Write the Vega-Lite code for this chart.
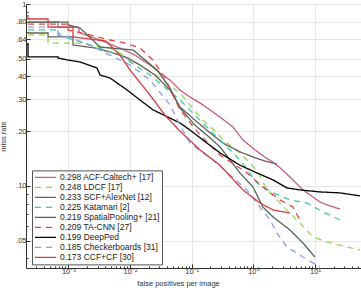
{
  "$schema": "https://vega.github.io/schema/vega-lite/v6.json",
  "autosize": {"type": "none"},
  "width": 335,
  "height": 264,
  "padding": {"left": 26, "top": 4, "right": 0, "bottom": 20},
  "config": {
    "view": {"stroke": null},
    "font": "Liberation Sans",
    "axis": {
      "domainColor": "#333333", "tickColor": "#333333", "labelColor": "#333333", "titleColor": "#333333",
      "gridColor": "#e6e6e6", "gridWidth": 1, "labelFont": "Liberation Sans", "titleFont": "Liberation Sans",
      "titleFontWeight": "normal"
    }
  },
  "data": {"values": [
    {"m": "0.298 ACF-Caltech+ [17]", "f": 0.000222, "r": 0.796},
    {"m": "0.298 ACF-Caltech+ [17]", "f": 0.000681, "r": 0.796},
    {"m": "0.298 ACF-Caltech+ [17]", "f": 0.000681, "r": 0.747},
    {"m": "0.298 ACF-Caltech+ [17]", "f": 0.00144, "r": 0.747},
    {"m": "0.298 ACF-Caltech+ [17]", "f": 0.00155, "r": 0.693},
    {"m": "0.298 ACF-Caltech+ [17]", "f": 0.00327, "r": 0.634},
    {"m": "0.298 ACF-Caltech+ [17]", "f": 0.00689, "r": 0.573},
    {"m": "0.298 ACF-Caltech+ [17]", "f": 0.012, "r": 0.524},
    {"m": "0.298 ACF-Caltech+ [17]", "f": 0.0211, "r": 0.462},
    {"m": "0.298 ACF-Caltech+ [17]", "f": 0.0306, "r": 0.418},
    {"m": "0.298 ACF-Caltech+ [17]", "f": 0.0445, "r": 0.382},
    {"m": "0.298 ACF-Caltech+ [17]", "f": 0.0646, "r": 0.337},
    {"m": "0.298 ACF-Caltech+ [17]", "f": 0.0938, "r": 0.308},
    {"m": "0.298 ACF-Caltech+ [17]", "f": 0.136, "r": 0.286},
    {"m": "0.298 ACF-Caltech+ [17]", "f": 0.198, "r": 0.262},
    {"m": "0.298 ACF-Caltech+ [17]", "f": 0.288, "r": 0.239},
    {"m": "0.298 ACF-Caltech+ [17]", "f": 0.467, "r": 0.211},
    {"m": "0.298 ACF-Caltech+ [17]", "f": 0.678, "r": 0.179},
    {"m": "0.298 ACF-Caltech+ [17]", "f": 1.06, "r": 0.158},
    {"m": "0.298 ACF-Caltech+ [17]", "f": 1.54, "r": 0.144},
    {"m": "0.298 ACF-Caltech+ [17]", "f": 2.08, "r": 0.135},
    {"m": "0.298 ACF-Caltech+ [17]", "f": 2.70, "r": 0.126},
    {"m": "0.298 ACF-Caltech+ [17]", "f": 3.92, "r": 0.112},
    {"m": "0.298 ACF-Caltech+ [17]", "f": 6.37, "r": 0.0951},
    {"m": "0.298 ACF-Caltech+ [17]", "f": 12.0, "r": 0.0817},
    {"m": "0.298 ACF-Caltech+ [17]", "f": 17.5, "r": 0.0776},
    {"m": "0.298 ACF-Caltech+ [17]", "f": 25.4, "r": 0.0747},

    {"m": "0.248 LDCF [17]", "f": 0.000222, "r": 0.676},
    {"m": "0.248 LDCF [17]", "f": 0.000469, "r": 0.676},
    {"m": "0.248 LDCF [17]", "f": 0.000469, "r": 0.610},
    {"m": "0.248 LDCF [17]", "f": 0.00155, "r": 0.610},
    {"m": "0.248 LDCF [17]", "f": 0.00225, "r": 0.595},
    {"m": "0.248 LDCF [17]", "f": 0.00474, "r": 0.573},
    {"m": "0.248 LDCF [17]", "f": 0.00894, "r": 0.512},
    {"m": "0.248 LDCF [17]", "f": 0.0162, "r": 0.451},
    {"m": "0.248 LDCF [17]", "f": 0.0306, "r": 0.392},
    {"m": "0.248 LDCF [17]", "f": 0.0646, "r": 0.324},
    {"m": "0.248 LDCF [17]", "f": 0.152, "r": 0.230},
    {"m": "0.248 LDCF [17]", "f": 0.257, "r": 0.196},
    {"m": "0.248 LDCF [17]", "f": 0.322, "r": 0.179},
    {"m": "0.248 LDCF [17]", "f": 0.606, "r": 0.152},
    {"m": "0.248 LDCF [17]", "f": 1.14, "r": 0.122},
    {"m": "0.248 LDCF [17]", "f": 1.66, "r": 0.0951},
    {"m": "0.248 LDCF [17]", "f": 3.92, "r": 0.0710},
    {"m": "0.248 LDCF [17]", "f": 5.70, "r": 0.0626},
    {"m": "0.248 LDCF [17]", "f": 9.25, "r": 0.0525},
    {"m": "0.248 LDCF [17]", "f": 15.6, "r": 0.0492},
    {"m": "0.248 LDCF [17]", "f": 32.9, "r": 0.0462},
    {"m": "0.248 LDCF [17]", "f": 53.5, "r": 0.0445},

    {"m": "0.233 SCF+AlexNet [12]", "f": 0.000222, "r": 0.693},
    {"m": "0.233 SCF+AlexNet [12]", "f": 0.000469, "r": 0.693},
    {"m": "0.233 SCF+AlexNet [12]", "f": 0.000469, "r": 0.659},
    {"m": "0.233 SCF+AlexNet [12]", "f": 0.00119, "r": 0.659},
    {"m": "0.233 SCF+AlexNet [12]", "f": 0.00119, "r": 0.595},
    {"m": "0.233 SCF+AlexNet [12]", "f": 0.00271, "r": 0.573},
    {"m": "0.233 SCF+AlexNet [12]", "f": 0.00474, "r": 0.545},
    {"m": "0.233 SCF+AlexNet [12]", "f": 0.0083, "r": 0.512},
    {"m": "0.233 SCF+AlexNet [12]", "f": 0.0145, "r": 0.462},
    {"m": "0.233 SCF+AlexNet [12]", "f": 0.0254, "r": 0.407},
    {"m": "0.233 SCF+AlexNet [12]", "f": 0.0445, "r": 0.337},
    {"m": "0.233 SCF+AlexNet [12]", "f": 0.0646, "r": 0.272},
    {"m": "0.233 SCF+AlexNet [12]", "f": 0.113, "r": 0.230},
    {"m": "0.233 SCF+AlexNet [12]", "f": 0.198, "r": 0.196},
    {"m": "0.233 SCF+AlexNet [12]", "f": 0.322, "r": 0.172},
    {"m": "0.233 SCF+AlexNet [12]", "f": 0.606, "r": 0.154},
    {"m": "0.233 SCF+AlexNet [12]", "f": 1.06, "r": 0.143},
    {"m": "0.233 SCF+AlexNet [12]", "f": 1.54, "r": 0.137},
    {"m": "0.233 SCF+AlexNet [12]", "f": 2.41, "r": 0.132},

    {"m": "0.225 Katamari [2]", "f": 0.000222, "r": 0.720},
    {"m": "0.225 Katamari [2]", "f": 0.000681, "r": 0.720},
    {"m": "0.225 Katamari [2]", "f": 0.000681, "r": 0.676},
    {"m": "0.225 Katamari [2]", "f": 0.00225, "r": 0.595},
    {"m": "0.225 Katamari [2]", "f": 0.00689, "r": 0.524},
    {"m": "0.225 Katamari [2]", "f": 0.0211, "r": 0.407},
    {"m": "0.225 Katamari [2]", "f": 0.0646, "r": 0.297},
    {"m": "0.225 Katamari [2]", "f": 0.136, "r": 0.230},
    {"m": "0.225 Katamari [2]", "f": 0.288, "r": 0.179},
    {"m": "0.225 Katamari [2]", "f": 0.606, "r": 0.139},
    {"m": "0.225 Katamari [2]", "f": 1.14, "r": 0.104},
    {"m": "0.225 Katamari [2]", "f": 2.08, "r": 0.0916},
    {"m": "0.225 Katamari [2]", "f": 3.92, "r": 0.0838},
    {"m": "0.225 Katamari [2]", "f": 7.39, "r": 0.0806},
    {"m": "0.225 Katamari [2]", "f": 13.4, "r": 0.0720},
    {"m": "0.225 Katamari [2]", "f": 25.4, "r": 0.0651},

    {"m": "0.219 SpatialPooling+ [21]", "f": 0.000222, "r": 0.796},
    {"m": "0.219 SpatialPooling+ [21]", "f": 0.000989, "r": 0.796},
    {"m": "0.219 SpatialPooling+ [21]", "f": 0.000989, "r": 0.767},
    {"m": "0.219 SpatialPooling+ [21]", "f": 0.00155, "r": 0.738},
    {"m": "0.219 SpatialPooling+ [21]", "f": 0.00327, "r": 0.580},
    {"m": "0.219 SpatialPooling+ [21]", "f": 0.0112, "r": 0.559},
    {"m": "0.219 SpatialPooling+ [21]", "f": 0.0274, "r": 0.434},
    {"m": "0.219 SpatialPooling+ [21]", "f": 0.0445, "r": 0.345},
    {"m": "0.219 SpatialPooling+ [21]", "f": 0.0646, "r": 0.268},
    {"m": "0.219 SpatialPooling+ [21]", "f": 0.113, "r": 0.216},
    {"m": "0.219 SpatialPooling+ [21]", "f": 0.198, "r": 0.184},
    {"m": "0.219 SpatialPooling+ [21]", "f": 0.288, "r": 0.164},
    {"m": "0.219 SpatialPooling+ [21]", "f": 0.418, "r": 0.139},
    {"m": "0.219 SpatialPooling+ [21]", "f": 0.606, "r": 0.118},
    {"m": "0.219 SpatialPooling+ [21]", "f": 0.985, "r": 0.0988},
    {"m": "0.219 SpatialPooling+ [21]", "f": 1.43, "r": 0.0766},
    {"m": "0.219 SpatialPooling+ [21]", "f": 2.08, "r": 0.0676},
    {"m": "0.219 SpatialPooling+ [21]", "f": 3.92, "r": 0.0573},
    {"m": "0.219 SpatialPooling+ [21]", "f": 6.37, "r": 0.0486},
    {"m": "0.219 SpatialPooling+ [21]", "f": 9.98, "r": 0.0407},

    {"m": "0.209 TA-CNN [27]", "f": 0.000222, "r": 0.776},
    {"m": "0.209 TA-CNN [27]", "f": 0.000989, "r": 0.776},
    {"m": "0.209 TA-CNN [27]", "f": 0.000989, "r": 0.720},
    {"m": "0.209 TA-CNN [27]", "f": 0.00225, "r": 0.676},
    {"m": "0.209 TA-CNN [27]", "f": 0.00474, "r": 0.634},
    {"m": "0.209 TA-CNN [27]", "f": 0.0083, "r": 0.610},
    {"m": "0.209 TA-CNN [27]", "f": 0.0145, "r": 0.573},
    {"m": "0.209 TA-CNN [27]", "f": 0.0236, "r": 0.492},
    {"m": "0.209 TA-CNN [27]", "f": 0.0369, "r": 0.392},
    {"m": "0.209 TA-CNN [27]", "f": 0.0646, "r": 0.262},
    {"m": "0.209 TA-CNN [27]", "f": 0.136, "r": 0.191},
    {"m": "0.209 TA-CNN [27]", "f": 0.288, "r": 0.148},
    {"m": "0.209 TA-CNN [27]", "f": 0.787, "r": 0.118},
    {"m": "0.209 TA-CNN [27]", "f": 1.43, "r": 0.0988},
    {"m": "0.209 TA-CNN [27]", "f": 2.70, "r": 0.0838},
    {"m": "0.209 TA-CNN [27]", "f": 4.38, "r": 0.0766},
    {"m": "0.209 TA-CNN [27]", "f": 5.70, "r": 0.0651},

    {"m": "0.199 DeepPed", "f": 0.000222, "r": 0.610},
    {"m": "0.199 DeepPed", "f": 0.000222, "r": 0.512},
    {"m": "0.199 DeepPed", "f": 0.000681, "r": 0.512},
    {"m": "0.199 DeepPed", "f": 0.000681, "r": 0.505},
    {"m": "0.199 DeepPed", "f": 0.000989, "r": 0.492},
    {"m": "0.199 DeepPed", "f": 0.00155, "r": 0.480},
    {"m": "0.199 DeepPed", "f": 0.00292, "r": 0.445},
    {"m": "0.199 DeepPed", "f": 0.00327, "r": 0.407},
    {"m": "0.199 DeepPed", "f": 0.00474, "r": 0.392},
    {"m": "0.199 DeepPed", "f": 0.00894, "r": 0.337},
    {"m": "0.199 DeepPed", "f": 0.0145, "r": 0.297},
    {"m": "0.199 DeepPed", "f": 0.0236, "r": 0.262},
    {"m": "0.199 DeepPed", "f": 0.0445, "r": 0.236},
    {"m": "0.199 DeepPed", "f": 0.0646, "r": 0.222},
    {"m": "0.199 DeepPed", "f": 0.0938, "r": 0.203},
    {"m": "0.199 DeepPed", "f": 0.152, "r": 0.179},
    {"m": "0.199 DeepPed", "f": 0.288, "r": 0.152},
    {"m": "0.199 DeepPed", "f": 0.606, "r": 0.130},
    {"m": "0.199 DeepPed", "f": 1.14, "r": 0.118},
    {"m": "0.199 DeepPed", "f": 2.08, "r": 0.108},
    {"m": "0.199 DeepPed", "f": 3.50, "r": 0.0975},
    {"m": "0.199 DeepPed", "f": 5.70, "r": 0.0951},
    {"m": "0.199 DeepPed", "f": 12.0, "r": 0.0927},
    {"m": "0.199 DeepPed", "f": 25.4, "r": 0.0916},
    {"m": "0.199 DeepPed", "f": 53.5, "r": 0.0882},

    {"m": "0.185 Checkerboards [31]", "f": 0.000222, "r": 0.747},
    {"m": "0.185 Checkerboards [31]", "f": 0.000681, "r": 0.747},
    {"m": "0.185 Checkerboards [31]", "f": 0.000681, "r": 0.693},
    {"m": "0.185 Checkerboards [31]", "f": 0.00225, "r": 0.595},
    {"m": "0.185 Checkerboards [31]", "f": 0.00474, "r": 0.524},
    {"m": "0.185 Checkerboards [31]", "f": 0.0100, "r": 0.462},
    {"m": "0.185 Checkerboards [31]", "f": 0.0211, "r": 0.382},
    {"m": "0.185 Checkerboards [31]", "f": 0.0445, "r": 0.279},
    {"m": "0.185 Checkerboards [31]", "f": 0.0646, "r": 0.216},
    {"m": "0.185 Checkerboards [31]", "f": 0.0938, "r": 0.172},
    {"m": "0.185 Checkerboards [31]", "f": 0.221, "r": 0.139},
    {"m": "0.185 Checkerboards [31]", "f": 0.418, "r": 0.115},
    {"m": "0.185 Checkerboards [31]", "f": 0.787, "r": 0.0951},
    {"m": "0.185 Checkerboards [31]", "f": 1.28, "r": 0.0766},
    {"m": "0.185 Checkerboards [31]", "f": 1.86, "r": 0.0651},
    {"m": "0.185 Checkerboards [31]", "f": 2.41, "r": 0.0552},
    {"m": "0.185 Checkerboards [31]", "f": 3.50, "r": 0.0462},
    {"m": "0.185 Checkerboards [31]", "f": 6.37, "r": 0.0407},
    {"m": "0.185 Checkerboards [31]", "f": 12.0, "r": 0.0359},

    {"m": "0.173 CCF+CF [30]", "f": 0.000222, "r": 0.870},
    {"m": "0.173 CCF+CF [30]", "f": 0.000222, "r": 0.827},
    {"m": "0.173 CCF+CF [30]", "f": 0.000469, "r": 0.827},
    {"m": "0.173 CCF+CF [30]", "f": 0.000469, "r": 0.747},
    {"m": "0.173 CCF+CF [30]", "f": 0.00119, "r": 0.747},
    {"m": "0.173 CCF+CF [30]", "f": 0.00119, "r": 0.659},
    {"m": "0.173 CCF+CF [30]", "f": 0.00408, "r": 0.626},
    {"m": "0.173 CCF+CF [30]", "f": 0.00689, "r": 0.524},
    {"m": "0.173 CCF+CF [30]", "f": 0.0100, "r": 0.434},
    {"m": "0.173 CCF+CF [30]", "f": 0.0211, "r": 0.316},
    {"m": "0.173 CCF+CF [30]", "f": 0.0369, "r": 0.245},
    {"m": "0.173 CCF+CF [30]", "f": 0.0646, "r": 0.200},
    {"m": "0.173 CCF+CF [30]", "f": 0.136, "r": 0.158},
    {"m": "0.173 CCF+CF [30]", "f": 0.288, "r": 0.130},
    {"m": "0.173 CCF+CF [30]", "f": 0.678, "r": 0.0951},
    {"m": "0.173 CCF+CF [30]", "f": 1.28, "r": 0.0806},
    {"m": "0.173 CCF+CF [30]", "f": 2.08, "r": 0.0738},
    {"m": "0.173 CCF+CF [30]", "f": 3.92, "r": 0.0710}
  ]},
  "mark": {"type": "line", "strokeWidth": 1.3, "clip": true},
  "encoding": {
    "x": {
      "field": "f", "type": "quantitative",
      "scale": {"type": "log", "domain": [0.000206, 55.7], "nice": false},
      "axis": {
        "title": "false positives per image", "titleFontSize": 7.5, "titleX": 152, "titleY": 11, "titleBaseline": "top",
        "values": [0.0003,0.0004,0.0005,0.0006,0.0007,0.0008,0.0009,0.001,0.002,0.003,0.004,0.005,0.006,0.007,0.008,0.009,0.01,0.02,0.03,0.04,0.05,0.06,0.07,0.08,0.09,0.1,0.2,0.3,0.4,0.5,0.6,0.7,0.8,0.9,1,2,3,4,5,6,7,8,9,10,20,30,40,50],
        "labelExpr": "datum.value == 0.001 ? '10⁻³' : datum.value == 0.01 ? '10⁻²' : datum.value == 0.1 ? '10⁻¹' : datum.value == 1 ? '10⁰' : datum.value == 10 ? '10¹' : ''",
        "labelFontSize": 7.5, "labelPadding": 3, "labelFlush": false, "labelOverlap": false,
        "tickSize": {"condition": {"test": "indexof([0.001,0.01,0.1,1,10], datum.value) >= 0", "value": -4}, "value": -2},
        "gridOpacity": {"condition": {"test": "indexof([0.001,0.01,0.1,1,10], datum.value) >= 0", "value": 1}, "value": 0},
        "grid": true
      }
    },
    "y": {
      "field": "r", "type": "quantitative",
      "scale": {"type": "log", "domain": [0.0354, 1], "nice": false},
      "axis": {
        "title": "miss rate", "titleFontSize": 7.5, "titlePadding": 8,
        "values": [0.04,0.05,0.06,0.07,0.08,0.09,0.1,0.2,0.3,0.4,0.5,0.6,0.64,0.7,0.8,0.9,1],
        "labelExpr": "datum.value == 0.05 ? '.05' : datum.value == 0.1 ? '.10' : datum.value == 0.2 ? '.20' : datum.value == 0.3 ? '.30' : datum.value == 0.4 ? '.40' : datum.value == 0.5 ? '.50' : datum.value == 0.64 ? '.64' : datum.value == 0.8 ? '.80' : datum.value == 1 ? '1' : ''",
        "labelFontSize": 7.5, "labelPadding": 4, "labelFlush": false, "labelOverlap": false,
        "tickSize": {"condition": {"test": "indexof([0.05,0.1,0.2,0.3,0.4,0.5,0.64,0.8,1], datum.value) >= 0", "value": -4}, "value": -2},
        "gridOpacity": {"condition": {"test": "indexof([0.05,0.1,0.2,0.3,0.4,0.5,0.64,0.8,1], datum.value) >= 0", "value": 1}, "value": 0},
        "grid": true
      }
    },
    "color": {
      "field": "m", "type": "nominal",
      "scale": {
        "domain": ["0.298 ACF-Caltech+ [17]", "0.248 LDCF [17]", "0.233 SCF+AlexNet [12]", "0.225 Katamari [2]", "0.219 SpatialPooling+ [21]", "0.209 TA-CNN [27]", "0.199 DeepPed", "0.185 Checkerboards [31]", "0.173 CCF+CF [30]"],
        "range": ["#c4607a", "#8edc4c", "#6e5c60", "#44c8a4", "#4c6a52", "#ec4444", "#000000", "#8c9ee8", "#d83c3c"]
      },
      "legend": {
        "title": null, "orient": "none", "legendX": 6, "legendY": 166.4,
        "symbolType": "stroke", "symbolSize": 441, "symbolStrokeWidth": 1.3,
        "labelFontSize": 8.5, "labelColor": "#222222", "labelOffset": 3, "clipHeight": 9.8, "rowPadding": 0,
        "fillColor": "#ffffff", "strokeColor": "#555555", "padding": 2, "labelLimit": 200
      }
    },
    "strokeDash": {
      "field": "m", "type": "nominal",
      "scale": {
        "domain": ["0.298 ACF-Caltech+ [17]", "0.248 LDCF [17]", "0.233 SCF+AlexNet [12]", "0.225 Katamari [2]", "0.219 SpatialPooling+ [21]", "0.209 TA-CNN [27]", "0.199 DeepPed", "0.185 Checkerboards [31]", "0.173 CCF+CF [30]"],
        "range": [[1,0],[6,5],[1,0],[6,5],[1,0],[6,5],[1,0],[6,5],[1,0]]
      },
      "legend": {
        "title": null, "orient": "none", "legendX": 6, "legendY": 166.4,
        "symbolType": "stroke", "symbolSize": 441, "symbolStrokeWidth": 1.3,
        "labelFontSize": 8.5, "labelColor": "#222222", "labelOffset": 3, "clipHeight": 9.8, "rowPadding": 0,
        "fillColor": "#ffffff", "strokeColor": "#555555", "padding": 2, "labelLimit": 200
      }
    },
    "order": {"value": null}
  }
}
